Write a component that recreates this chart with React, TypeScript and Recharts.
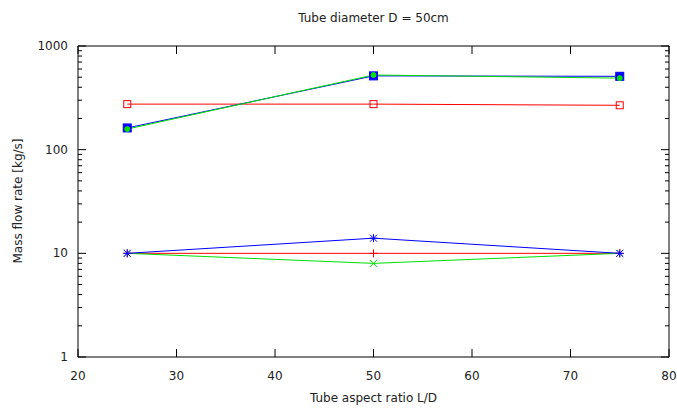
import React from "react";
import { LineChart, Line, XAxis, YAxis } from "recharts";

const aspectRatios = [25, 50, 75];
const blueCircle = [162, 515, 510];
const greenFilled = [158, 525, 490];
const redSquare = [275, 275, 268];
const redPlus = [10, 10, 10];
const blueStar = [10, 14, 10];
const greenCross = [10, 8, 10];

const xTicks = [20, 30, 40, 50, 60, 70, 80];
const decades = [1, 10, 100, 1000];
const yTicks: number[] = [];
decades.forEach((d) => {
  if (d === 1000) {
    yTicks.push(1000);
  } else {
    for (let k = 1; k <= 9; k++) yTicks.push(d * k);
  }
});

const data = aspectRatios.map((x, i) => ({
  ratio: x,
  sBlueCircle: blueCircle[i],
  sGreenFilled: greenFilled[i],
  sRedSquare: redSquare[i],
  sRedPlus: redPlus[i],
  sBlueStar: blueStar[i],
  sGreenCross: greenCross[i],
}));

const FONT = "'DejaVu Sans', sans-serif";
const TXT = "#222";
const isMajor = (v: number) => decades.includes(v);

const BottomTick = (p: any) => {
  const { x, y, payload } = p;
  return (
    <g>
      <line x1={x} y1={y} x2={x} y2={y - 8} stroke="#000" />
      <text x={x} y={y + 23} textAnchor="middle" fontFamily={FONT} fontSize={12} fill={TXT}>
        {payload.value}
      </text>
    </g>
  );
};
const TopTick = (p: any) => {
  const { x, y } = p;
  return <line x1={x} y1={y} x2={x} y2={y + 8} stroke="#000" />;
};
const LeftTick = (p: any) => {
  const { x, y, payload } = p;
  const major = isMajor(payload.value);
  return (
    <g>
      <line x1={x} y1={y} x2={x + (major ? 8 : 4)} y2={y} stroke="#000" />
      {major && (
        <text x={x - 10} y={y + 4} textAnchor="end" fontFamily={FONT} fontSize={12} fill={TXT}>
          {payload.value}
        </text>
      )}
    </g>
  );
};
const RightTick = (p: any) => {
  const { x, y, payload } = p;
  const major = isMajor(payload.value);
  return <line x1={x} y1={y} x2={x - (major ? 8 : 4)} y2={y} stroke="#000" />;
};

const square = (color: string, filled: boolean, s: number) => (p: any) => {
  const { cx, cy, index } = p;
  if (cx == null || cy == null) return <g key={index} />;
  return (
    <rect
      key={index}
      x={cx - s / 2}
      y={cy - s / 2}
      width={s}
      height={s}
      fill={filled ? color : "none"}
      stroke={color}
      strokeWidth={1}
    />
  );
};
const circle = (color: string, r: number) => (p: any) => {
  const { cx, cy, index } = p;
  if (cx == null || cy == null) return <g key={index} />;
  return <circle key={index} cx={cx} cy={cy} r={r} fill={color} stroke={color} />;
};
const plus = (color: string) => (p: any) => {
  const { cx, cy, index } = p;
  if (cx == null || cy == null) return <g key={index} />;
  return (
    <g key={index} stroke={color}>
      <line x1={cx - 4} y1={cy} x2={cx + 4} y2={cy} />
      <line x1={cx} y1={cy - 4} x2={cx} y2={cy + 4} />
    </g>
  );
};
const cross = (color: string) => (p: any) => {
  const { cx, cy, index } = p;
  if (cx == null || cy == null) return <g key={index} />;
  return (
    <g key={index} stroke={color}>
      <line x1={cx - 3.5} y1={cy - 3.5} x2={cx + 3.5} y2={cy + 3.5} />
      <line x1={cx - 3.5} y1={cy + 3.5} x2={cx + 3.5} y2={cy - 3.5} />
    </g>
  );
};
const star = (color: string) => (p: any) => {
  const { cx, cy, index } = p;
  if (cx == null || cy == null) return <g key={index} />;
  return (
    <g key={index} stroke={color}>
      <line x1={cx - 4} y1={cy} x2={cx + 4} y2={cy} />
      <line x1={cx} y1={cy - 4} x2={cx} y2={cy + 4} />
      <line x1={cx - 3.5} y1={cy - 3.5} x2={cx + 3.5} y2={cy + 3.5} />
      <line x1={cx - 3.5} y1={cy + 3.5} x2={cx + 3.5} y2={cy - 3.5} />
    </g>
  );
};

const RED = "#ff0000";
const GREEN = "#00e000";
const BLUE = "#0000ff";

export default function App() {
  return (
    <div style={{ position: "absolute", left: 0, top: 0, width: 677, height: 409, background: "#fff" }}>
      <LineChart
        width={677}
        height={409}
        data={data}
        margin={{ top: 45, right: 7, bottom: 51, left: 77 }}
      >
        <XAxis
          dataKey="ratio"
          type="number"
          domain={[20, 80]}
          ticks={xTicks}
          height={1}
          tickSize={0}
          tickMargin={0}
          tickLine={false}
          tick={<BottomTick />}
          axisLine={{ stroke: "#000" }}
          interval={0}
        />
        <XAxis
          xAxisId="top"
          dataKey="ratio"
          orientation="top"
          type="number"
          domain={[20, 80]}
          ticks={xTicks}
          height={1}
          tickSize={0}
          tickMargin={0}
          tickLine={false}
          tick={<TopTick />}
          axisLine={{ stroke: "#000" }}
          interval={0}
        />
        <YAxis
          type="number"
          scale="log"
          domain={[1, 1000]}
          ticks={yTicks}
          allowDataOverflow
          width={1}
          tickSize={0}
          tickMargin={0}
          tickLine={false}
          tick={<LeftTick />}
          axisLine={{ stroke: "#000" }}
          interval={0}
        />
        <YAxis
          yAxisId="right"
          orientation="right"
          type="number"
          scale="log"
          domain={[1, 1000]}
          ticks={yTicks}
          allowDataOverflow
          width={1}
          tickSize={0}
          tickMargin={0}
          tickLine={false}
          tick={<RightTick />}
          axisLine={{ stroke: "#000" }}
          interval={0}
        />
        <Line dataKey="sRedSquare" stroke={RED} strokeWidth={1} dot={square(RED, false, 7)} isAnimationActive={false} />
        <Line dataKey="sRedPlus" stroke={RED} strokeWidth={1} dot={plus(RED)} isAnimationActive={false} />
        <Line dataKey="sGreenCross" stroke={GREEN} strokeWidth={1} dot={cross(GREEN)} isAnimationActive={false} />
        <Line dataKey="sBlueStar" stroke={BLUE} strokeWidth={1} dot={star(BLUE)} isAnimationActive={false} />
        <Line dataKey="sBlueCircle" stroke={BLUE} strokeWidth={1} dot={square(BLUE, true, 8)} isAnimationActive={false} />
        <Line dataKey="sGreenFilled" stroke={GREEN} strokeWidth={1} dot={circle(GREEN, 2.5)} isAnimationActive={false} />
      </LineChart>
      <div
        style={{
          position: "absolute",
          left: 78,
          width: 591,
          top: 11,
          textAlign: "center",
          fontFamily: FONT,
          fontSize: 12,
          color: TXT,
          lineHeight: "14px",
        }}
      >
        Tube diameter D = 50cm
      </div>
      <div
        style={{
          position: "absolute",
          left: 78,
          width: 591,
          top: 391,
          textAlign: "center",
          fontFamily: FONT,
          fontSize: 12,
          color: TXT,
          lineHeight: "14px",
        }}
      >
        Tube aspect ratio L/D
      </div>
      <div
        style={{
          position: "absolute",
          left: 18 - 100,
          top: 201 - 7,
          width: 200,
          textAlign: "center",
          fontFamily: FONT,
          fontSize: 12,
          color: TXT,
          lineHeight: "14px",
          transform: "rotate(-90deg)",
        }}
      >
        Mass flow rate [kg/s]
      </div>
    </div>
  );
}
